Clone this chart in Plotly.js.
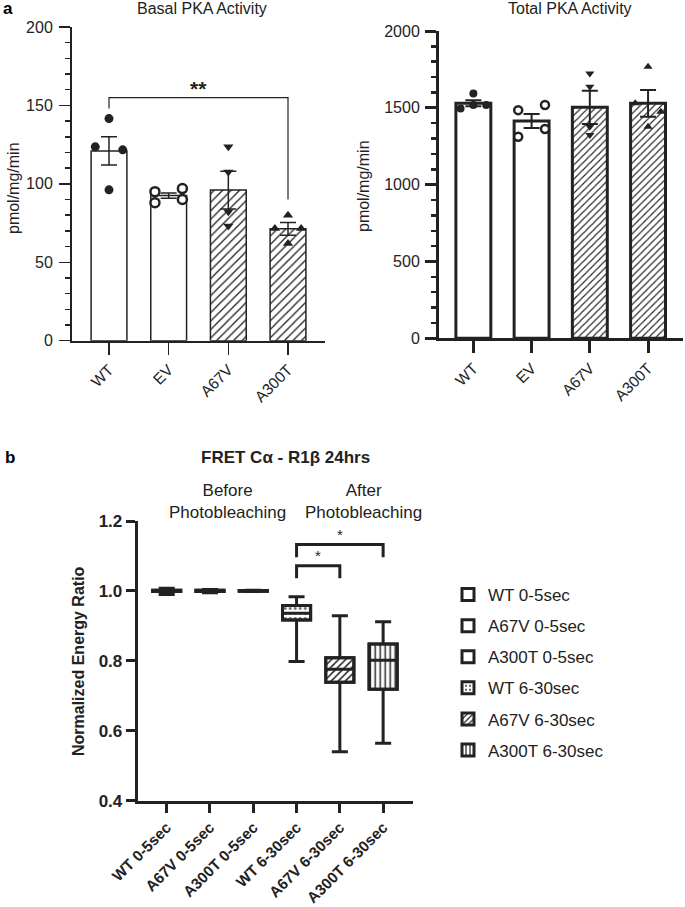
<!DOCTYPE html>
<html>
<head>
<meta charset="utf-8">
<script src="https://cdn.plot.ly/plotly-3.0.1.min.js"></script>
<style>
html,body{margin:0;padding:0;background:#fff;}
#chart{width:685px;height:907px;}
</style>
</head>
<body>
<div id="chart"></div>
<script>
// ---------------- DATA ----------------
const categoriesA = ['WT', 'EV', 'A67V', 'A300T'];

// Basal PKA activity (pmol/mg/min)
const basalMean = [121, 92.5, 96, 71.3];
const basalSem = [9, 1.7, 12, 4];
const basalWT = [141.6, 123.6, 121.7, 96.2];
const basalEV = [95, 88, 97, 90];
const basalA67V = [123.6, 107.6, 82.2, 73.2];
const basalA300T = [80, 71.6, 71.6, 62];
const basalBracket = [155, 148, 90];   // bar height, left end, right end

// Total PKA activity (pmol/mg/min)
const totalMean = [1530, 1414, 1503, 1529];
const totalSem = [20, 45, 108, 87];
const totalWT = [1594, 1496, 1518, 1518];
const totalEV = [1485, 1518, 1312, 1362];
const totalA67V = [1724, 1637, 1377, 1323];
const totalA300T = [1767, 1529, 1474, 1377];

// FRET Cα - R1β 24hrs
const fretCats = ['WT 0-5sec', 'A67V 0-5sec', 'A300T 0-5sec', 'WT 6-30sec', 'A67V 6-30sec', 'A300T 6-30sec'];
const fretMin = [0.990, 0.995, 0.998, 0.798, 0.540, 0.564];
const fretQ1 = [0.998, 0.998, 0.999, 0.917, 0.739, 0.719];
const fretMedian = [1.000, 1.000, 1.000, 0.936, 0.776, 0.802];
const fretQ3 = [1.002, 1.002, 1.001, 0.958, 0.809, 0.848];
const fretMax = [1.008, 1.004, 1.002, 0.983, 0.929, 0.912];
const sigFrom = [3, 3];
const sigTo = [4, 5];
const sigY = [1.072, 1.133];
const sigEnd = [1.036, 1.096];
const sigLabels = ['*', '*'];

// ---------------- STYLE ----------------
const W = 685, H = 907;
const px = v => v / W;
const py = v => 1 - v / H;
const INK = '#222';
const FONT = 'Liberation Sans, Arial, Helvetica, sans-serif';

// horizontal jitter of dots inside each bar (category units)
const jitterA = {
  WT: [0, -0.23, 0.23, 0],
  EV: [-0.23, -0.23, 0.23, 0.23],
  A67V: [0, 0, 0, 0],
  A300T: [0, -0.22, 0.22, 0]
};
const jitterT = {
  WT: [0, -0.22, 0, 0.22],
  EV: [-0.23, 0.23, -0.23, 0.23],
  A67V: [0, 0, 0, 0],
  A300T: [0, -0.22, 0.22, 0]
};
const markerStyles = [
  {symbol: 'circle', color: INK, line: {color: INK, width: 0}},
  {symbol: 'circle', color: 'white', line: {color: INK, width: 2.5}},
  {symbol: 'triangle-down', color: INK, line: {color: INK, width: 0}},
  {symbol: 'triangle-up', color: INK, line: {color: INK, width: 0}}
];

const traces = [];

function barPanel(means, sems, groups, jit, xa, ya, lw, msize, psize) {
  traces.push({
    type: 'bar', x: categoriesA.map((c, i) => i), y: means, width: 0.6,
    xaxis: xa, yaxis: ya, showlegend: false, hoverinfo: 'skip',
    marker: {
      color: 'white', line: {color: INK, width: lw},
      pattern: {shape: ['', '', '/', '/'], fgcolor: INK, bgcolor: 'white', size: psize, solidity: 0.22}
    },
    error_y: {type: 'data', array: sems, visible: true, color: INK, thickness: lw === 3 ? 2 : 1.5, width: 8}
  });
  groups.forEach((vals, gi) => {
    const key = categoriesA[gi];
    traces.push({
      type: 'scatter', mode: 'markers', xaxis: xa, yaxis: ya, showlegend: false, hoverinfo: 'skip',
      x: vals.map((v, i) => gi + jit[key][i]), y: vals,
      marker: Object.assign({size: msize}, markerStyles[gi])
    });
  });
}

barPanel(basalMean, basalSem, [basalWT, basalEV, basalA67V, basalA300T], jitterA, 'x', 'y', 1.5, 9, 6);
barPanel(totalMean, totalSem, [totalWT, totalEV, totalA67V, totalA300T], jitterT, 'x2', 'y2', 3, 8, 5);

// significance bracket, basal panel (WT vs A300T)
traces.push({
  type: 'scatter', mode: 'lines', xaxis: 'x', yaxis: 'y', showlegend: false, hoverinfo: 'skip',
  x: [0, 0, 3, 3], y: [basalBracket[1], basalBracket[0], basalBracket[0], basalBracket[2]],
  line: {color: INK, width: 1.2}
});

// FRET boxes: patterned fills (bars) + box outlines/whiskers
const fretPatterns = ['', '', '', '.', '/', '|'];
fretCats.forEach((name, i) => {
  traces.push({
    type: 'bar', name: name, legendgroup: 'g' + i,
    x: [i], base: [fretQ1[i]], y: [fretQ3[i] - fretQ1[i]], width: 0.65,
    xaxis: 'x3', yaxis: 'y3', hoverinfo: 'skip',
    marker: {
      color: 'white', line: {color: INK, width: 3},
      pattern: {shape: fretPatterns[i], fgcolor: i === 3 ? '#666' : INK, bgcolor: 'white', size: 5, solidity: i === 3 ? 0.25 : 0.3}
    }
  });
});
traces.push({
  type: 'box', xaxis: 'x3', yaxis: 'y3', showlegend: false, hoverinfo: 'skip',
  x: fretCats.map((c, i) => i), q1: fretQ1, median: fretMedian, q3: fretQ3,
  lowerfence: fretMin, upperfence: fretMax, boxpoints: false,
  width: 0.65, whiskerwidth: 0.57,
  fillcolor: 'rgba(0,0,0,0)', line: {color: INK, width: 3}
});
sigFrom.forEach((a, k) => {
  traces.push({
    type: 'scatter', mode: 'lines', xaxis: 'x3', yaxis: 'y3', showlegend: false, hoverinfo: 'skip',
    x: [a, a, sigTo[k], sigTo[k]], y: [sigEnd[k], sigY[k], sigY[k], sigEnd[k]],
    line: {color: INK, width: 3}
  });
});

// ---------------- LAYOUT ----------------
const baseAxis = {showgrid: false, zeroline: false, showline: true, linecolor: INK, ticks: 'outside', tickcolor: INK, fixedrange: true};

const layout = {
  width: W, height: H,
  margin: {l: 0, r: 0, t: 0, b: 0},
  paper_bgcolor: 'white', plot_bgcolor: 'rgba(0,0,0,0)',
  font: {family: FONT, color: INK, size: 16},
  barmode: 'overlay',
  showlegend: true,
  legend: {
    x: px(448), y: py(577), xanchor: 'left', yanchor: 'top',
    font: {size: 17, color: INK}, tracegroupgap: 6, bgcolor: 'rgba(0,0,0,0)'
  },
  xaxis: Object.assign({}, baseAxis, {
    domain: [px(72), px(325)], anchor: 'y', range: [-0.62, 3.62],
    tickvals: [0, 1, 2, 3], ticktext: categoriesA, tickangle: -45,
    ticklen: 12, tickwidth: 1.5, linewidth: 2, tickfont: {size: 15.5}
  }),
  yaxis: Object.assign({}, baseAxis, {
    domain: [py(340.7), py(27)], anchor: 'x', range: [0, 200], dtick: 50,
    ticklen: 11, tickwidth: 1.5, linewidth: 2, tickfont: {size: 16}, ticklabelstandoff: 3,
    minor: {dtick: 10, ticks: 'outside', ticklen: 5, tickwidth: 1.5, tickcolor: INK, showgrid: false}
  }),
  xaxis2: Object.assign({}, baseAxis, {
    domain: [px(439), px(683)], anchor: 'y2', range: [-0.59, 3.6],
    tickvals: [0, 1, 2, 3], ticktext: categoriesA, tickangle: -45,
    ticklen: 12, tickwidth: 3, linewidth: 3, tickfont: {size: 15.5}
  }),
  yaxis2: Object.assign({}, baseAxis, {
    domain: [py(338.3), py(31)], anchor: 'x2', range: [0, 2000], dtick: 500,
    ticklen: 11, tickwidth: 3, linewidth: 3, tickfont: {size: 16}, ticklabelstandoff: 2,
    minor: {dtick: 100, ticks: 'outside', ticklen: 5, tickwidth: 2.5, tickcolor: INK, showgrid: false}
  }),
  xaxis3: Object.assign({}, baseAxis, {
    domain: [px(137.7), px(413)], anchor: 'y3', range: [-0.67, 5.69],
    tickvals: fretCats.map((c, i) => i), ticktext: fretCats, tickangle: -45,
    ticklen: 9, tickwidth: 3, linewidth: 3, tickfont: {size: 15.3, weight: 'bold'}
  }),
  yaxis3: Object.assign({}, baseAxis, {
    domain: [py(800.7), py(521)], anchor: 'x3', range: [0.4, 1.2], dtick: 0.2, tickformat: '.1f',
    ticklen: 9, tickwidth: 3, linewidth: 3, tickfont: {size: 17, weight: 'bold'}
  }),
  annotations: [
    {text: 'a', x: px(1), y: py(8), xref: 'paper', yref: 'paper', xanchor: 'left', yanchor: 'middle', showarrow: false, font: {size: 17, weight: 'bold', color: '#000'}},
    {text: 'Basal PKA Activity', x: px(202), y: py(8), xref: 'paper', yref: 'paper', xanchor: 'center', yanchor: 'middle', showarrow: false, font: {size: 16}},
    {text: 'Total PKA Activity', x: px(570), y: py(8), xref: 'paper', yref: 'paper', xanchor: 'center', yanchor: 'middle', showarrow: false, font: {size: 16}},
    {text: 'pmol/mg/min', x: px(13), y: py(188), xref: 'paper', yref: 'paper', xanchor: 'center', yanchor: 'middle', textangle: -90, showarrow: false, font: {size: 16}},
    {text: 'pmol/mg/min', x: px(364), y: py(186), xref: 'paper', yref: 'paper', xanchor: 'center', yanchor: 'middle', textangle: -90, showarrow: false, font: {size: 16}},
    {text: '**', x: 1.5, y: 161, xref: 'x', yref: 'y', xanchor: 'center', yanchor: 'middle', showarrow: false, font: {size: 21, weight: 'bold'}},
    {text: 'b', x: px(3), y: py(457), xref: 'paper', yref: 'paper', xanchor: 'left', yanchor: 'middle', showarrow: false, font: {size: 17, weight: 'bold', color: '#000'}},
    {text: 'FRET Cα - R1β 24hrs', x: px(285), y: py(457), xref: 'paper', yref: 'paper', xanchor: 'center', yanchor: 'middle', showarrow: false, font: {size: 17, weight: 'bold'}},
    {text: 'Before<br>Photobleaching', x: px(227), y: py(501), xref: 'paper', yref: 'paper', xanchor: 'center', yanchor: 'middle', showarrow: false, font: {size: 17}},
    {text: 'After<br>Photobleaching', x: px(363), y: py(501), xref: 'paper', yref: 'paper', xanchor: 'center', yanchor: 'middle', showarrow: false, font: {size: 17}},
    {text: 'Normalized Energy Ratio', x: px(78), y: py(661), xref: 'paper', yref: 'paper', xanchor: 'center', yanchor: 'middle', textangle: -90, showarrow: false, font: {size: 16, weight: 'bold'}}
  ].concat(sigFrom.map((a, k) => ({
    text: sigLabels[k], x: (a + sigTo[k]) / 2, y: sigY[k] + 0.028, xref: 'x3', yref: 'y3',
    xanchor: 'center', yanchor: 'middle', showarrow: false, font: {size: 15}
  })))
};

Plotly.newPlot('chart', traces, layout, {staticPlot: true, displayModeBar: false});
</script>
</body>
</html>
